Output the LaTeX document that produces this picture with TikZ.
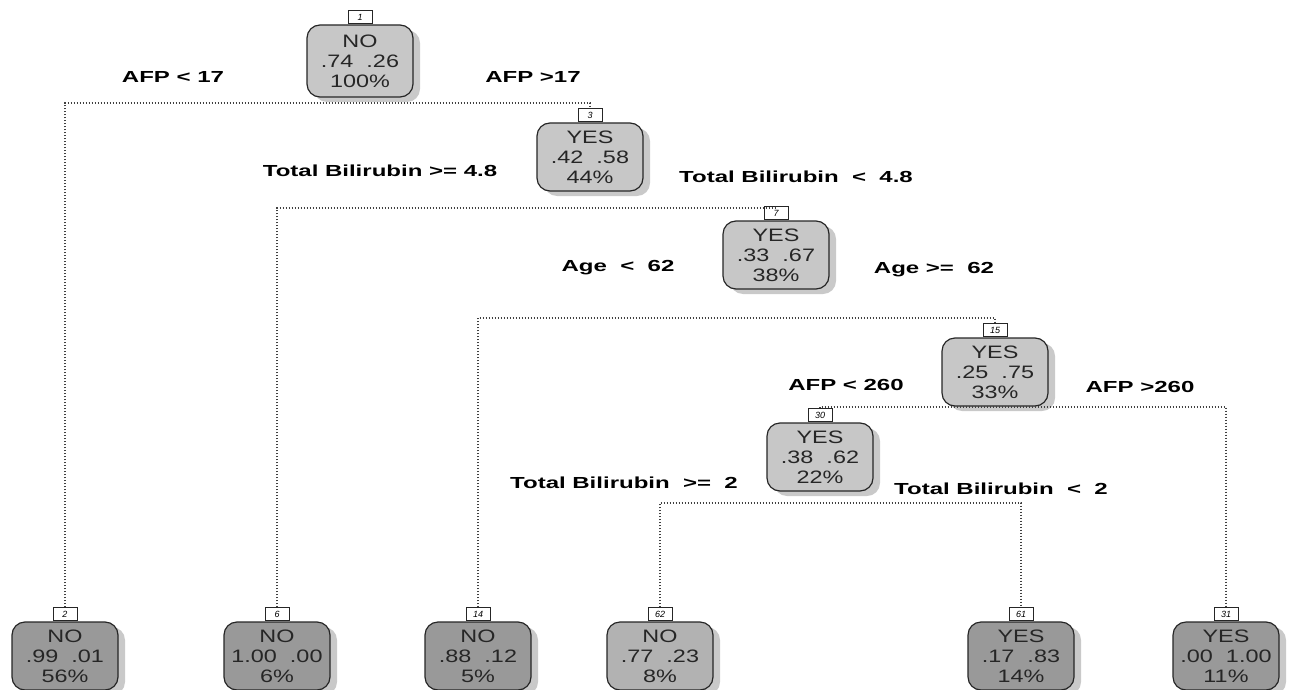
\documentclass[tikz,border=0pt]{standalone}
\usepackage{fontspec}
\setmainfont{Liberation Sans}
\newfontfamily\splitfont[FakeStretch=1.5]{Liberation Sans}
\newfontfamily\boxfont[FakeStretch=1.3]{Liberation Sans}
\usetikzlibrary{positioning,shadows}

\begin{document}
\begin{tikzpicture}[x=1pt,y=-1pt,
  treenode/.style = {shape=rectangle, rounded corners=13pt,
    draw=black!85, line width=1.2pt, align=center,
    minimum width=106pt, minimum height=68pt, inner sep=1pt,
    fill=black!22, text=black!85,
    font=\boxfont\fontsize{18}{20}\selectfont,
    drop shadow={shadow xshift=7pt, shadow yshift=-5pt, fill=black!30, opacity=0.7}},
  leafnode/.style = {treenode, fill=black!40},
  tagnode/.style = {draw=black!85, line width=1pt, fill=white,
    minimum width=24pt, minimum height=13pt, inner sep=0pt,
    font=\fontsize{9}{9}\itshape\selectfont},
  split/.style = {font=\splitfont\bfseries\fontsize{16}{16}\selectfont},
  line/.style = {draw=black!75, line width=1.2pt, dash pattern=on 1.2pt off 1.8pt}
  ]
  \useasboundingbox (0,0) rectangle (1292,690);

  % inner nodes
  \node[treenode, minimum height=72pt] (n1) at (360,61) {NO\\.74~~.26\\100\%};
  \node[treenode] (n3) at (590,157) {YES\\.42~~.58\\44\%};
  \node[treenode] (n7) at (776,255) {YES\\.33~~.67\\38\%};
  \node[treenode] (n15) at (995,372) {YES\\.25~~.75\\33\%};
  \node[treenode] (n30) at (820,457) {YES\\.38~~.62\\22\%};
  % leaves
  \node[leafnode] (n2) at (65,656) {NO\\.99~~.01\\56\%};
  \node[leafnode] (n6) at (277,656) {NO\\1.00~~.00\\6\%};
  \node[leafnode] (n14) at (478,656) {NO\\.88~~.12\\5\%};
  \node[leafnode, fill=black!30] (n62) at (660,656) {NO\\.77~~.23\\8\%};
  \node[leafnode] (n61) at (1021,656) {YES\\.17~~.83\\14\%};
  \node[leafnode] (n31) at (1226,656) {YES\\.00~~1.00\\11\%};

  % node numbers
  \foreach \k in {1,3,7,15,30,2,6,14,62,61,31}
    \node[tagnode, above=0pt of n\k] (t\k) {\k};

  % splits
  \coordinate (s1) at (360,103);
  \coordinate (s3) at (590,208);
  \coordinate (s7) at (776,318);
  \coordinate (s15) at (995,407);
  \coordinate (s30) at (820,503);
  \draw[line] (t2.north) |- (s1) -| (t3.north);
  \draw[line] (t6.north) |- (s3) -| (t7.north);
  \draw[line] (t14.north) |- (s7) -| (t15.north);
  \draw[line] (t30.north) |- (s15) -| (t31.north);
  \draw[line] (t62.north) |- (s30) -| (t61.north);

  \node[split] (l1) at (173,77) {AFP < 17};
  \node[split] (r1) at (533,77) {AFP >17};
  \node[split] (l3) at (380,171) {Total Bilirubin >= 4.8};
  \node[split] (r3) at (796,177) {Total Bilirubin~ < ~4.8};
  \node[split] (l7) at (618,268) {Age~ < ~62};
  \node[split] (r7) at (934,270) {Age >= ~62};
  \node[split] (l15) at (846,385) {AFP < 260};
  \node[split] (r15) at (1140,387) {AFP >260};
  \node[split] (l30) at (624,483) {Total Bilirubin~ >= ~2};
  \node[split] (r30) at (1001,489) {Total Bilirubin~ < ~2};
\end{tikzpicture}
\end{document}
